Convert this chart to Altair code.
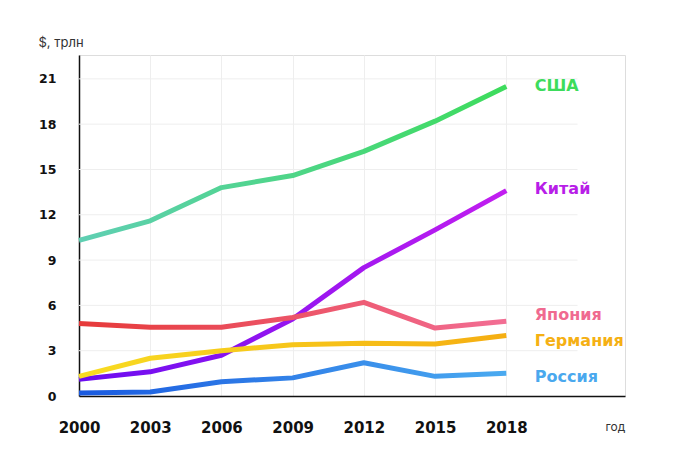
import altair as alt
import pandas as pd

years = [2000, 2003, 2006, 2009, 2012, 2015, 2018]
usa = [10.3, 11.6, 13.8, 14.6, 16.2, 18.2, 20.5]
china = [1.1, 1.6, 2.7, 5.1, 8.5, 11.0, 13.6]
japan = [4.8, 4.55, 4.55, 5.2, 6.2, 4.5, 4.95]
germany = [1.3, 2.5, 3.0, 3.4, 3.5, 3.45, 4.0]
russia = [0.2, 0.27, 0.95, 1.2, 2.2, 1.3, 1.5]

y_ticks = [0, 3, 6, 9, 12, 15, 18, 21]
grid_span = [2000, 2021]

names = ["США", "Китай", "Япония", "Германия", "Россия"]
series = [usa, china, japan, germany, russia]
label_x = [2019.2] * 5
label_y = [20.5, 13.7, 5.35, 3.65, 1.25]
grad_from = ["#5fcfb3", "#6a0cf0", "#e63a3a", "#f8dc22", "#1a5ae0"]
grad_to = ["#3ddc5c", "#c21ef0", "#f26e94", "#f5ae12", "#4aaaf0"]
label_colors = ["#3ddc5c", "#b81ee8", "#f06a90", "#f5b014", "#4aa8ee"]

BOLD = "DejaVu Sans"
REG = "Inter"

rows = []
for n, vals in zip(names, series):
    for yr, v in zip(years, vals):
        rows.append({"country": n, "year": yr, "value": v})
df = pd.DataFrame(rows)

lab = pd.DataFrame({"country": names, "x": label_x, "y": label_y, "c": label_colors})
grid_df = pd.DataFrame({"y": [t for t in y_ticks if t > 0],
                        "x0": grid_span[0], "x1": grid_span[1]})

xscale = alt.Scale(domain=[2000, 2023], nice=False, zero=False)
yscale = alt.Scale(domain=[0, 22.58], nice=False)

base = alt.Chart(df)

axes = base.mark_line(opacity=0).encode(
    x=alt.X("year:Q", scale=xscale,
            axis=alt.Axis(values=years, format="d", title="год", grid=True,
                          gridColor={"condition": {"test": "datum.value === 2000", "value": "transparent"}, "value": "#eeeeee"},
                          domainColor="#111111", domainWidth=1.5,
                          ticks=False, labelPadding=24, labelFontSize=15, labelFlush=False,
                          labelFont=BOLD, labelFontWeight="bold", labelColor="#111111",
                          titleFont=REG, titleFontWeight="normal", titleFontSize=12,
                          titleColor="#333333", titleX=526, titleY=34,
                          titleAlign="left", titleBaseline="alphabetic")),
    y=alt.Y("value:Q", scale=yscale,
            axis=alt.Axis(values=y_ticks, title="$, трлн", grid=False,
                          domainColor="#111111", domainWidth=1.5,
                          ticks=False, labelPadding=23, labelFontSize=12.5, labelFlush=False,
                          labelFont=BOLD, labelFontWeight="bold", labelColor="#111111",
                          titleFont=REG, titleFontWeight="normal", titleFontSize=13,
                          titleColor="#333333", titleAngle=0, titleX=-41, titleY=-9,
                          titleAlign="left", titleBaseline="alphabetic")),
    detail="country:N",
)

hgrid = alt.Chart(grid_df).mark_rule(color="#eeeeee", strokeWidth=1).encode(
    x=alt.X("x0:Q", scale=xscale),
    x2="x1:Q",
    y=alt.Y("y:Q", scale=yscale),
)

layers = [axes, hgrid]
for n, a, b in zip(names, grad_from, grad_to):
    g = alt.Gradient(gradient="linear",
                     stops=[alt.GradientStop(color=a, offset=0),
                            alt.GradientStop(color=b, offset=1)],
                     x1=0, x2=1, y1=0, y2=0)
    layers.append(
        base.transform_filter(alt.datum.country == n)
        .mark_line(stroke=g, strokeWidth=5, strokeJoin="round", strokeCap="butt")
        .encode(x=alt.X("year:Q", scale=xscale), y=alt.Y("value:Q", scale=yscale))
    )

texts = alt.Chart(lab).mark_text(align="left", baseline="middle", font=BOLD,
                                 fontWeight="bold", fontSize=16).encode(
    x=alt.X("x:Q", scale=xscale),
    y=alt.Y("y:Q", scale=yscale),
    text="country:N",
    color=alt.Color("c:N", scale=None),
)
layers.append(texts)

chart = alt.layer(*layers).properties(
    width=546, height=341,
    autosize=alt.AutoSizeParams(type="none"),
    padding={"left": 71, "top": 47, "right": 60, "bottom": 60},
).configure_view(stroke=None).configure(background="white")

chart.save("out.html", embed_options={"renderer": "svg", "actions": False})
